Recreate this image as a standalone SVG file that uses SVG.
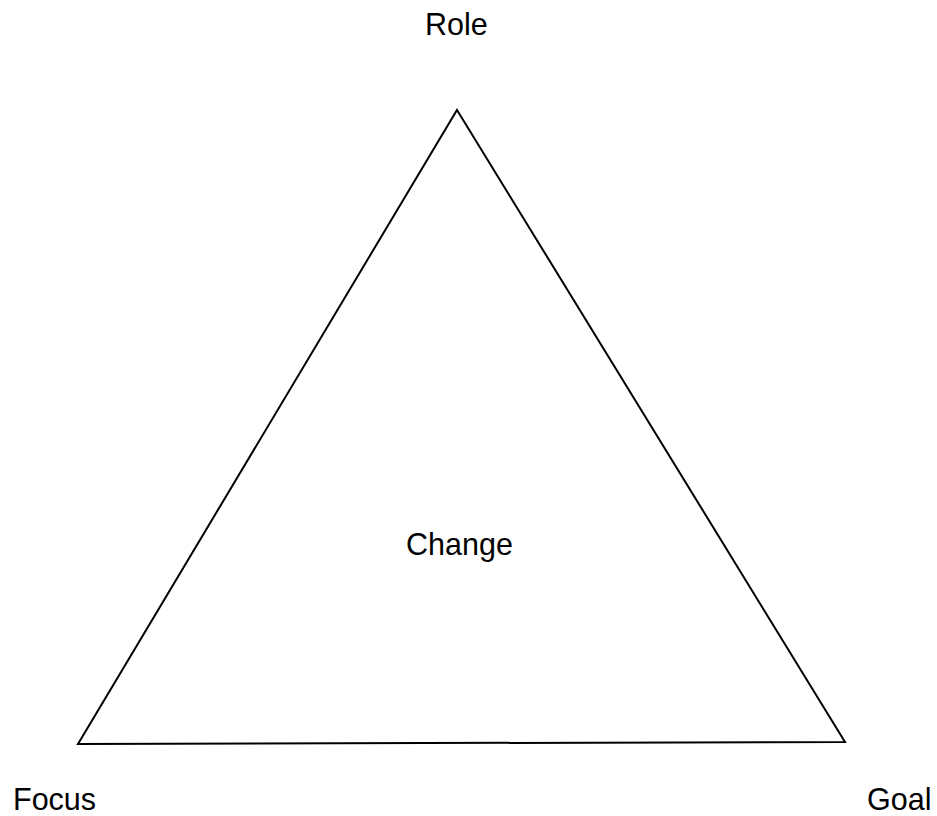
<svg xmlns="http://www.w3.org/2000/svg" width="937" height="816" viewBox="0 0 937 816">
  <style>
    .lbl { font-family: "Liberation Sans", Arial, sans-serif; font-size: 30.5px; fill: #000; }
    .edge { fill: none; stroke: #000; stroke-width: 2; stroke-linejoin: miter; }
  </style>
  <rect width="937" height="816" fill="#fff"/>
  <g id="connectors">
    <polygon class="edge" points="457,110 845,742 78,744"/>
  </g>
  <g id="role"><text class="lbl" x="425" y="35">Role</text></g>
  <g id="change"><text class="lbl" x="406" y="555">Change</text></g>
  <g id="focus"><text class="lbl" x="13" y="810">Focus</text></g>
  <g id="goal"><text class="lbl" x="867" y="810">Goal</text></g>
</svg>
